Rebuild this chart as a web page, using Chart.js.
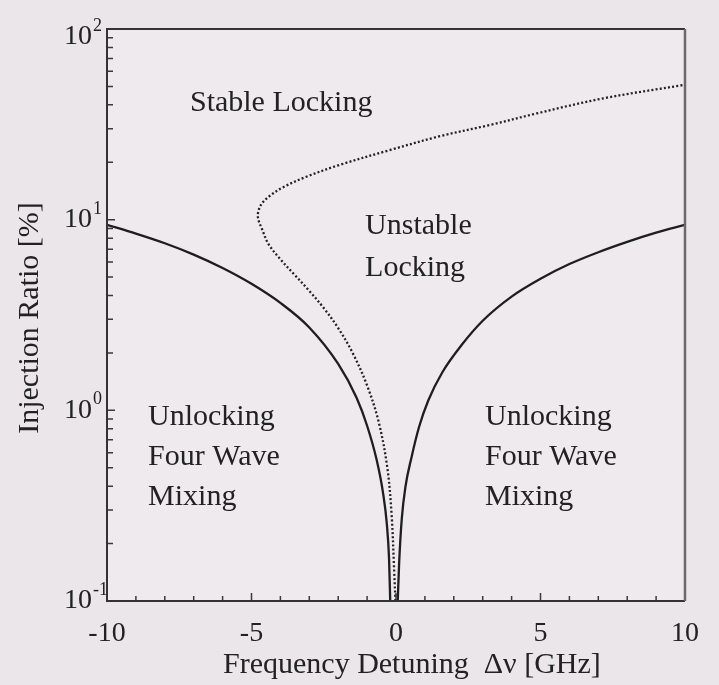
<!DOCTYPE html>
<html><head><meta charset="utf-8">
<script src="https://cdn.jsdelivr.net/npm/chart.js@4"></script>
<style>html,body{margin:0;padding:0;background:#ebe6ea;overflow:hidden}</style>
</head><body>
<canvas id="c" width="719" height="685"></canvas>
<script>
// ---- data ----
const xMin = -10, xMax = 10;
const yMin = 0.1, yMax = 100;
const xTickStep = 5;
const yDecadeExponents = [-1, 0, 1, 2];

// solid boundary (locking range), left branch
const leftX = [-10, -9, -8, -7, -6, -5, -4, -3, -2, -1.36, -1, -0.67, -0.45, -0.32, -0.24, -0.2];
const leftY = [9.4, 8.45, 7.52, 6.56, 5.58, 4.61, 3.66, 2.72, 1.75, 1.16, 0.83, 0.55, 0.37, 0.256, 0.166, 0.1];
// solid boundary, right branch
const rightX = [0.06, 0.11, 0.2, 0.33, 0.54, 0.8, 1.12, 1.6, 2.27, 3, 4, 5, 6, 7, 8, 9, 10];
const rightY = [0.1, 0.16, 0.27, 0.4, 0.57, 0.82, 1.13, 1.58, 2.2, 2.95, 3.95, 4.9, 5.85, 6.75, 7.65, 8.55, 9.4];
// dotted boundary (stable / unstable locking)
const dotX = [-0.02, -0.06, -0.15, -0.3, -0.6, -1.0, -1.5, -2.0, -2.5, -3.0, -3.5, -4.0, -4.4, -4.62, -4.78, -4.68, -4.4, -3.9, -3.1, -1.94, -0.2, 1.52, 3.25, 4.87, 7.18, 9.93];
const dotY = [0.1, 0.14, 0.28, 0.5, 0.87, 1.35, 2.0, 2.7, 3.44, 4.23, 5.12, 6.2, 7.4, 8.8, 10.4, 11.9, 13.2, 14.8, 16.8, 19.4, 23.2, 27.4, 31.4, 36.1, 43.3, 50.8];

// region labels: text and anchor (data coordinates, left edge / middle)
const regionText = ["Stable Locking", "Unstable", "Locking", "Unlocking", "Four Wave", "Mixing", "Unlocking", "Four Wave", "Mixing"];
const regionAtX = [-7.13, -1.07, -1.07, -8.58, -8.58, -8.58, 3.08, 3.08, 3.08];
const regionAtY = [41, 9.2, 5.6, 0.92, 0.57, 0.35, 0.92, 0.57, 0.35];

const xTitle = "Frequency Detuning  Δν [GHz]";
const yTitle = "Injection Ratio [%]";

const toPts = (xs, ys) => xs.map((v, i) => ({x: v, y: ys[i]}));
const INK = '#222222';
const SERIF = '"Liberation Serif", "Times New Roman", serif';

const deco = {
  id: 'deco',
  beforeDraw(chart) {
    const {ctx, chartArea: a} = chart;
    ctx.save();
    ctx.fillStyle = '#ebe6ea';
    ctx.fillRect(0, 0, chart.width, chart.height);
    ctx.fillStyle = '#eeeaed';
    ctx.fillRect(a.left, a.top, a.right - a.left, a.bottom - a.top);
    ctx.restore();
  },
  afterDraw(chart) {
    const {ctx, chartArea: a, scales: {x, y}} = chart;
    ctx.save();
    // inward ticks on the bottom axis
    ctx.strokeStyle = '#3a3a3a';
    ctx.lineWidth = 1.5;
    ctx.beginPath();
    for (let v = xMin + 1; v < xMax; v++) {
      const px = x.getPixelForValue(v);
      const len = (v % xTickStep === 0) ? 8 : 5;
      ctx.moveTo(px, a.bottom); ctx.lineTo(px, a.bottom - len);
    }
    // inward log ticks on the left axis
    for (let e = yDecadeExponents[0]; e < yDecadeExponents[yDecadeExponents.length - 1]; e++) {
      for (let m = 1; m < 10; m++) {
        const py = y.getPixelForValue(m * Math.pow(10, e));
        const len = m === 1 ? 8 : 6;
        ctx.moveTo(a.left, py); ctx.lineTo(a.left + len, py);
      }
    }
    ctx.stroke();
    // frame
    ctx.lineWidth = 2;
    ctx.strokeStyle = '#333';
    ctx.beginPath();
    ctx.moveTo(a.right, a.top); ctx.lineTo(a.left, a.top); ctx.lineTo(a.left, a.bottom); ctx.lineTo(a.right, a.bottom);
    ctx.stroke();
    ctx.strokeStyle = '#6a6a6a';
    ctx.lineWidth = 2.5;
    ctx.beginPath();
    ctx.moveTo(a.right, a.top); ctx.lineTo(a.right, a.bottom);
    ctx.stroke();

    // y tick labels 10^e
    ctx.fillStyle = INK;
    yDecadeExponents.forEach(e => {
      let c = y.getPixelForValue(Math.pow(10, e));
      c = Math.max(c, a.top + 8);
      ctx.font = '28px ' + SERIF;
      ctx.textAlign = 'right';
      ctx.textBaseline = 'middle';
      ctx.fillText('10', a.left - 15, c);
      ctx.font = '18px ' + SERIF;
      ctx.textAlign = 'left';
      ctx.textBaseline = 'alphabetic';
      ctx.fillText(String(e), a.left - 14, c - 6);
    });

    // region labels
    ctx.font = '30px ' + SERIF;
    ctx.textAlign = 'left';
    ctx.textBaseline = 'middle';
    regionText.forEach((t, i) => {
      ctx.fillText(t, x.getPixelForValue(regionAtX[i]), y.getPixelForValue(regionAtY[i]));
    });

    // axis titles
    ctx.textAlign = 'center';
    ctx.fillText(xTitle, x.getPixelForValue(0.55), a.bottom + 64);
    ctx.translate(a.left - 77, (a.top + a.bottom) / 2 + 3);
    ctx.rotate(-Math.PI / 2);
    ctx.fillText(yTitle, 0, 0);
    ctx.restore();
  }
};

new Chart(document.getElementById('c'), {
  type: 'scatter',
  data: {
    datasets: [
      {data: toPts(leftX, leftY), showLine: true, borderColor: '#1e1e1e', borderWidth: 2.3, pointRadius: 0, cubicInterpolationMode: 'monotone'},
      {data: toPts(rightX, rightY), showLine: true, borderColor: '#1e1e1e', borderWidth: 2.3, pointRadius: 0, cubicInterpolationMode: 'monotone'},
      {data: toPts(dotX, dotY), showLine: true, borderColor: '#222', borderWidth: 2.3, borderDash: [2, 2.2], pointRadius: 0, tension: 0.35}
    ]
  },
  options: {
    responsive: false,
    animation: false,
    layout: {padding: {top: 29, right: 34, left: 0, bottom: 0}},
    plugins: {legend: {display: false}, tooltip: {enabled: false}},
    scales: {
      x: {
        type: 'linear', min: xMin, max: xMax,
        grid: {display: false}, border: {display: false},
        ticks: {stepSize: xTickStep, color: INK, font: {family: SERIF, size: 28}, padding: 8, maxRotation: 0, autoSkip: false},
        afterFit(s) { s.height = 84; }
      },
      y: {
        type: 'logarithmic', min: yMin, max: yMax,
        grid: {display: false}, border: {display: false},
        ticks: {display: false},
        afterFit(s) { s.width = 107; }
      }
    }
  },
  plugins: [deco]
});
</script>
</body></html>
